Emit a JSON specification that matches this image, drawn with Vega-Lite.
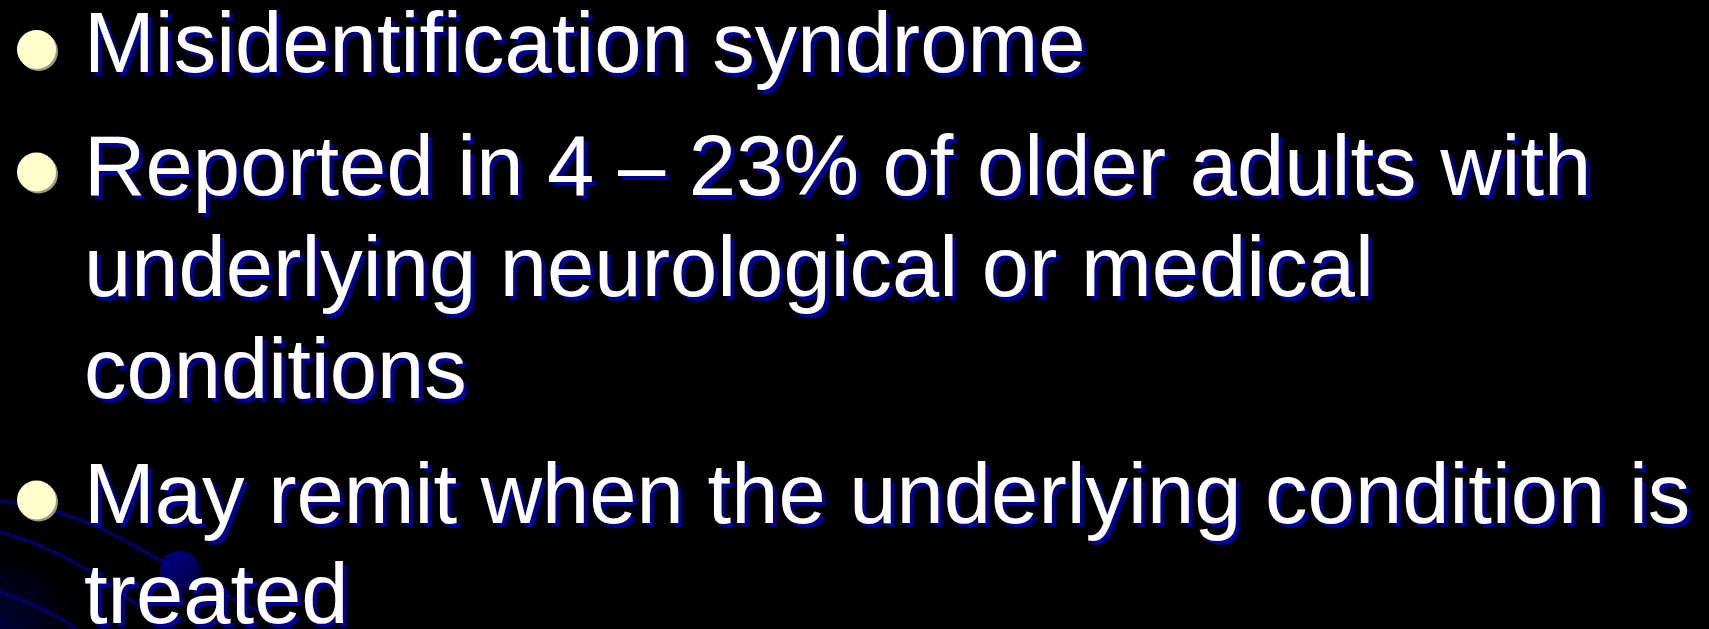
{
  "$schema": "https://vega.github.io/schema/vega-lite/v6.json",
  "width": 1709,
  "height": 629,
  "autosize": {"type": "none"},
  "padding": 0,
  "background": "#000000",
  "config": {"view": {"stroke": null}},
  "datasets": {
    "lines": [
      {"text": "Misidentification syndrome", "x": 84, "y": 72},
      {"text": "Reported in 4 – 23% of older adults with", "x": 84, "y": 195},
      {"text": "underlying neurological or medical", "x": 84, "y": 296},
      {"text": "conditions", "x": 84, "y": 398},
      {"text": "May remit when the underlying condition is", "x": 84, "y": 523},
      {"text": "treated", "x": 84, "y": 623}
    ],
    "bullets": [
      {"x": 36.5, "y": 49.5},
      {"x": 36.5, "y": 172},
      {"x": 36.5, "y": 500}
    ],
    "swoosh": [
      {"curve": "A", "x": 0, "y": 501},
      {"curve": "A", "x": 50, "y": 510},
      {"curve": "A", "x": 100, "y": 528},
      {"curve": "A", "x": 160, "y": 560},
      {"curve": "A", "x": 180, "y": 570},
      {"curve": "A", "x": 260, "y": 613},
      {"curve": "A", "x": 290, "y": 629},
      {"curve": "B", "x": 0, "y": 532},
      {"curve": "B", "x": 50, "y": 550},
      {"curve": "B", "x": 100, "y": 578},
      {"curve": "B", "x": 140, "y": 607},
      {"curve": "B", "x": 173, "y": 629},
      {"curve": "C", "x": 0, "y": 592},
      {"curve": "C", "x": 50, "y": 613},
      {"curve": "C", "x": 77, "y": 629}
    ],
    "glow": [{"x": 0, "y": 629}],
    "orb": [{"x": 180, "y": 571}]
  },
  "layer": [
    {
      "data": {"name": "glow"},
      "mark": {"type": "point", "filled": true, "size": 25000, "opacity": 1, "clip": true, "fill": {"gradient": "radial", "stops": [{"offset": 0, "color": "#000038"}, {"offset": 1, "color": "#000000"}]}},
      "encoding": {
        "x": {"field": "x", "type": "quantitative", "scale": {"domain": [0, 1709]}, "axis": null},
        "y": {"field": "y", "type": "quantitative", "scale": {"domain": [629, 0]}, "axis": null}
      }
    },
    {
      "data": {"name": "swoosh"},
      "mark": {"type": "line", "stroke": "#000068", "strokeWidth": 3.5, "interpolate": "monotone", "clip": true},
      "encoding": {
        "x": {"field": "x", "type": "quantitative", "scale": {"domain": [0, 1709]}, "axis": null},
        "y": {"field": "y", "type": "quantitative", "scale": {"domain": [629, 0]}, "axis": null},
        "detail": {"field": "curve"}
      }
    },
    {
      "data": {"name": "orb"},
      "mark": {"type": "point", "filled": true, "size": 1600, "opacity": 1, "fill": {"gradient": "linear", "x1": 0, "y1": 0, "x2": 1, "y2": 1, "stops": [{"offset": 0, "color": "#00008C"}, {"offset": 1, "color": "#000040"}]}},
      "encoding": {
        "x": {"field": "x", "type": "quantitative", "scale": {"domain": [0, 1709]}, "axis": null},
        "y": {"field": "y", "type": "quantitative", "scale": {"domain": [629, 0]}, "axis": null}
      }
    },
    {
      "data": {"name": "bullets"},
      "mark": {"type": "point", "filled": true, "size": 1521, "color": "#9a9a8a", "opacity": 1, "xOffset": 2, "yOffset": 2},
      "encoding": {
        "x": {"field": "x", "type": "quantitative", "scale": {"domain": [0, 1709]}, "axis": null},
        "y": {"field": "y", "type": "quantitative", "scale": {"domain": [629, 0]}, "axis": null}
      }
    },
    {
      "data": {"name": "bullets"},
      "mark": {"type": "point", "filled": true, "size": 1521, "color": "#FFFFCC", "opacity": 1},
      "encoding": {
        "x": {"field": "x", "type": "quantitative", "scale": {"domain": [0, 1709]}, "axis": null},
        "y": {"field": "y", "type": "quantitative", "scale": {"domain": [629, 0]}, "axis": null}
      }
    },
    {
      "data": {"name": "lines"},
      "mark": {"type": "text", "align": "left", "baseline": "alphabetic", "font": "Liberation Sans", "fontSize": 85, "color": "#000099", "dx": 4, "dy": 4},
      "encoding": {
        "x": {"field": "x", "type": "quantitative", "scale": {"domain": [0, 1709]}, "axis": null},
        "y": {"field": "y", "type": "quantitative", "scale": {"domain": [629, 0]}, "axis": null},
        "text": {"field": "text"}
      }
    },
    {
      "data": {"name": "lines"},
      "mark": {"type": "text", "align": "left", "baseline": "alphabetic", "font": "Liberation Sans", "fontSize": 85, "color": "#FFFFFF"},
      "encoding": {
        "x": {"field": "x", "type": "quantitative", "scale": {"domain": [0, 1709]}, "axis": null},
        "y": {"field": "y", "type": "quantitative", "scale": {"domain": [629, 0]}, "axis": null},
        "text": {"field": "text"}
      }
    }
  ]
}
